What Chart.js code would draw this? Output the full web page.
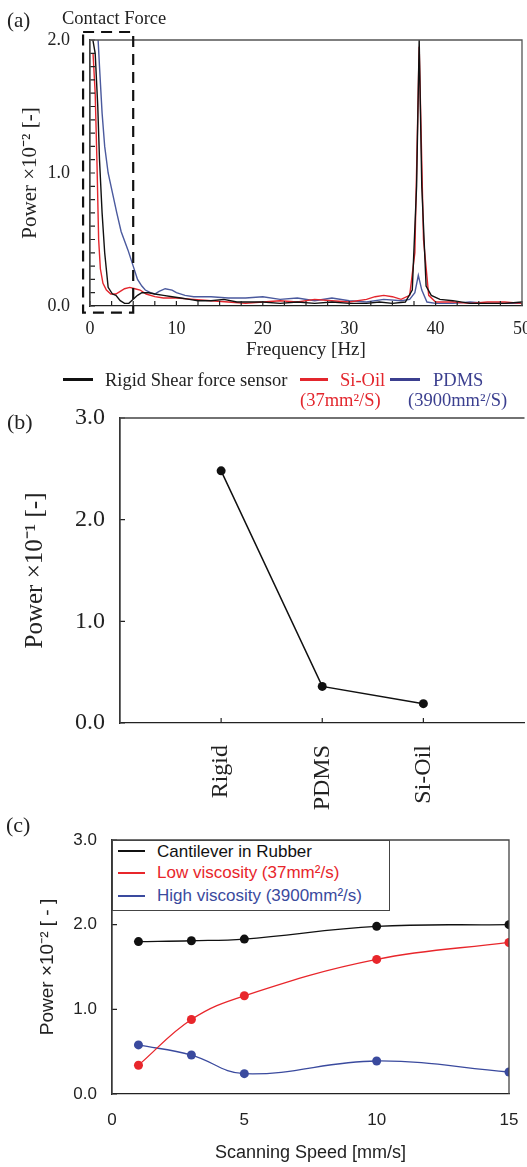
<!DOCTYPE html>
<html>
<head>
<meta charset="utf-8">
<script src="https://cdn.jsdelivr.net/npm/chart.js@4.4.1/dist/chart.umd.min.js"></script>
<style>
  html, body { margin: 0; padding: 0; background: #fff; overflow: hidden; }
  body { width: 527px; height: 1167px; position: relative; }
  .box { position: absolute; }
  .serif { font-family: "Liberation Serif", "Times New Roman", serif; }
  .sans { font-family: "Liberation Sans", Arial, sans-serif; }
  .lbl { position: absolute; white-space: nowrap; line-height: 1; color: #222; }
  .seg { position: absolute; height: 3px; }
</style>
</head>
<body>
<div class="box" style="left:0;top:0;width:527px;height:365px"><canvas id="chartA"></canvas></div>
<div class="box" style="left:0;top:400px;width:529px;height:415px"><canvas id="chartB"></canvas></div>
<div class="box" style="left:0;top:810px;width:527px;height:357px"><canvas id="chartC"></canvas></div>

<!-- panel letters -->
<div class="lbl serif" style="left:7px;top:10px;font-size:21px">(a)</div>
<div class="lbl serif" style="left:62px;top:9px;font-size:18.5px">Contact Force</div>
<div class="lbl serif" style="left:7px;top:411px;font-size:22px">(b)</div>
<div class="lbl serif" style="left:6px;top:814px;font-size:22px">(c)</div>

<!-- legend (a) -->
<div class="seg" style="left:63px;top:378px;width:30px;background:#111"></div>
<div class="lbl serif" style="left:105px;top:371px;font-size:18.5px">Rigid Shear force sensor</div>
<div class="seg" style="left:300px;top:378px;width:28px;background:#e3262d"></div>
<div class="lbl serif" style="left:340px;top:371px;font-size:18.5px;color:#e3262d">Si-Oil</div>
<div class="seg" style="left:390px;top:378px;width:30px;background:#3b3f8f"></div>
<div class="lbl serif" style="left:433px;top:371px;font-size:18.5px;color:#3b3f8f">PDMS</div>
<div class="lbl serif" style="left:300px;top:391px;font-size:18.5px;color:#e3262d">(37mm²/S)</div>
<div class="lbl serif" style="left:408px;top:391px;font-size:18.5px;color:#3b3f8f">(3900mm²/S)</div>

<!-- legend (c) -->
<div class="box" style="left:112px;top:840px;width:276px;height:69px;border:1.3px solid #444;background:#fff"></div>
<div class="seg" style="left:118px;top:850px;width:27px;height:2px;background:#111"></div>
<div class="lbl sans" style="left:157px;top:843px;font-size:17px;color:#111">Cantilever in Rubber</div>
<div class="seg" style="left:118px;top:872px;width:27px;height:2px;background:#e8262b"></div>
<div class="lbl sans" style="left:157px;top:864px;font-size:17px;color:#e8262b">Low viscosity (37mm²/s)</div>
<div class="seg" style="left:118px;top:895px;width:27px;height:2px;background:#3a4a9e"></div>
<div class="lbl sans" style="left:157px;top:887px;font-size:17px;color:#3a4a9e">High viscosity (3900mm²/s)</div>

<script>
// ---- data (a): power spectra ----
const rigidFreq = [0.2, 0.6, 0.9, 1.1, 1.4, 1.7, 2.1, 2.6, 3.0, 3.5, 4.0, 4.5, 5.0, 5.5, 6.0, 6.8, 7.5, 8.5, 9.5, 10.5,
  11.5, 12.5, 14, 15.5, 17, 18.5, 20, 22, 24, 26, 28, 30, 32, 33.5, 35, 36.5, 37.3, 37.8, 38.1, 38.4,
  38.9, 39.5, 40.5, 42, 44, 46, 48, 50];
const rigidPower = [2.05, 1.9, 1.5, 1.1, 0.7, 0.4, 0.14, 0.09, 0.08, 0.04, 0.02, 0.02, 0.05, 0.08, 0.10, 0.10, 0.09, 0.08, 0.07, 0.06,
  0.05, 0.04, 0.04, 0.05, 0.03, 0.03, 0.03, 0.02, 0.03, 0.02, 0.03, 0.02, 0.02, 0.03, 0.02, 0.03, 0.12, 0.9, 2.0, 0.9,
  0.15, 0.08, 0.05, 0.04, 0.02, 0.02, 0.02, 0.03];

const oilFreq = [0.35, 0.6, 0.8, 1.0, 1.2, 1.5, 1.9, 2.4, 3.0, 3.5, 4.0, 4.6, 5.2, 5.8, 6.5, 7.5, 8.5, 10, 12, 14,
  16, 18, 20, 22, 24, 26, 28, 30, 32, 33, 34, 35, 36, 37, 37.6, 38.1, 38.6, 39.2, 40, 42,
  44, 46, 48, 50];
const oilPower = [1.9, 1.6, 1.1, 0.5, 0.28, 0.17, 0.12, 0.09, 0.09, 0.11, 0.13, 0.14, 0.13, 0.12, 0.09, 0.07, 0.06, 0.06, 0.05, 0.04,
  0.03, 0.02, 0.03, 0.04, 0.03, 0.05, 0.04, 0.03, 0.05, 0.07, 0.08, 0.07, 0.05, 0.08, 0.4, 1.95, 0.5, 0.08, 0.03, 0.03,
  0.02, 0.03, 0.03, 0.02];

const pdmsFreq = [0.9, 1.1, 1.4, 1.7, 2.1, 2.6, 3.1, 3.6, 4.4, 5.0, 5.5, 6.0, 6.4, 7.0, 7.5, 8.0, 8.7, 9.5, 10, 11,
  12, 14, 16, 18, 20, 22, 24, 26, 28, 30, 32, 34, 36, 37, 37.6, 38.0, 38.4, 39, 40, 42,
  44, 46, 48, 50];
const pdmsPower = [2.05, 1.8, 1.45, 1.2, 1.0, 0.85, 0.70, 0.56, 0.42, 0.30, 0.20, 0.15, 0.12, 0.10, 0.09, 0.11, 0.13, 0.12, 0.10, 0.08,
  0.07, 0.07, 0.06, 0.06, 0.07, 0.05, 0.06, 0.04, 0.06, 0.04, 0.03, 0.05, 0.04, 0.05, 0.10, 0.23, 0.12, 0.03, 0.02, 0.02,
  0.03, 0.02, 0.02, 0.02];

// ---- data (b) ----
const materials = ['Rigid', 'PDMS', 'Si-Oil'];
const materialPower = [2.48, 0.36, 0.19];

// ---- data (c) ----
const speeds = [1, 3, 5, 10, 15];
const rubberPower = [1.80, 1.81, 1.83, 1.98, 2.00];
const lowViscPower = [0.34, 0.88, 1.16, 1.59, 1.79];
const highViscPower = [0.58, 0.46, 0.24, 0.39, 0.26];

const SERIF = '"Liberation Serif", "Times New Roman", serif';
const SANS = '"Liberation Sans", Arial, sans-serif';
const INK = '#222';

const pairs = (xs, ys) => xs.map((x, i) => ({x: x, y: ys[i]}));
const noPad = s => { s.paddingLeft = 0; s.paddingRight = 0; s.paddingTop = 0; s.paddingBottom = 0; };

// small inward tick marks on the axes
const inTicks = {
  id: 'inTicks',
  afterDatasetsDraw(chart, args, opts) {
    if (!opts.len) return;
    const {ctx, chartArea: a} = chart;
    ctx.save();
    ctx.strokeStyle = INK;
    ctx.lineWidth = 1.2;
    ctx.beginPath();
    (opts.axes || ['x', 'y']).forEach(id => {
      const s = chart.scales[id];
      s.ticks.forEach(t => {
        if (opts.skipEmpty && !t.label) return;
        const p = s.getPixelForValue(t.value);
        if (id === 'x') { ctx.moveTo(p, a.bottom); ctx.lineTo(p, a.bottom - opts.len); }
        else { ctx.moveTo(a.left, p); ctx.lineTo(a.left + opts.len, p); }
      });
    });
    ctx.stroke();
    ctx.restore();
  }
};

// box around the plot area (right side optional)
const frame = {
  id: 'frame',
  afterDraw(chart, args, opts) {
    const {ctx, chartArea: a} = chart;
    ctx.save();
    ctx.strokeStyle = opts.color || '#333';
    ctx.lineWidth = 1.3;
    ctx.beginPath();
    ctx.moveTo(a.left, a.bottom);
    ctx.lineTo(a.left, a.top);
    ctx.lineTo(a.right, a.top);
    if (!opts.noRight) ctx.lineTo(a.right, a.bottom);
    ctx.stroke();
    ctx.restore();
  }
};

// dashed "contact force" region in (a)
const contactBox = {
  id: 'contactBox',
  afterDraw(chart, args, opts) {
    if (!opts.show) return;
    const {ctx, scales: {x, y}} = chart;
    const l = x.getPixelForValue(opts.xMin), r = x.getPixelForValue(opts.xMax);
    const t = y.getPixelForValue(opts.yMax), b = y.getPixelForValue(opts.yMin);
    ctx.save();
    ctx.strokeStyle = '#111';
    ctx.lineWidth = 2.2;
    ctx.setLineDash([11, 7]);
    ctx.strokeRect(l, t, r - l, b - t);
    ctx.restore();
  }
};

Chart.register(inTicks, frame, contactBox);

// ---------- (a) ----------
new Chart(document.getElementById('chartA'), {
  type: 'line',
  data: {
    datasets: [
      {label: 'Rigid Shear force sensor', data: pairs(rigidFreq, rigidPower), borderColor: '#111'},
      {label: 'Si-Oil', data: pairs(oilFreq, oilPower), borderColor: '#e3262d'},
      {label: 'PDMS', data: pairs(pdmsFreq, pdmsPower), borderColor: '#4b5a9e'}
    ]
  },
  options: {
    responsive: true, maintainAspectRatio: false, animation: false,
    layout: {padding: {top: 40, right: 5, left: 0, bottom: 0}},
    elements: {point: {radius: 0}, line: {borderWidth: 1.4, tension: 0}},
    plugins: {
      legend: {display: false}, tooltip: {enabled: false},
      inTicks: {len: 5}, frame: {color: '#555'},
      contactBox: {show: true, xMin: -0.8, xMax: 5.0, yMin: -0.05, yMax: 2.06}
    },
    scales: {
      x: {
        type: 'linear', min: 0, max: 50,
        afterFit: s => { s.height = 59; noPad(s); },
        grid: {display: false, drawTicks: false},
        border: {color: INK, width: 1.3},
        ticks: {stepSize: 2.5, autoSkip: false, maxRotation: 0, padding: 12, color: INK,
          font: {family: SERIF, size: 18}, callback: v => (v % 10 === 0 ? String(v) : '')},
        title: {display: true, text: 'Frequency [Hz]', color: INK, font: {family: SERIF, size: 19}, padding: {top: 0, bottom: 4}}
      },
      y: {
        min: 0, max: 2,
        afterFit: s => { s.width = 90; noPad(s); },
        grid: {display: false, drawTicks: false},
        border: {color: INK, width: 1.3},
        ticks: {stepSize: 0.1, autoSkip: false, padding: 20, color: INK, font: {family: SERIF, size: 18},
          callback: v => (Math.abs(v - Math.round(v)) < 1e-6 ? Math.round(v).toFixed(1) : '')},
        title: {display: true, text: 'Power ×10⁻² [-]', color: INK, font: {family: SERIF, size: 21}, padding: {top: 18, bottom: 0}}
      }
    }
  }
});

// ---------- (b) ----------
new Chart(document.getElementById('chartB'), {
  type: 'line',
  data: {
    datasets: [{
      label: 'Power',
      data: materialPower.map((v, i) => ({x: i + 1, y: v})),
      borderColor: '#111', backgroundColor: '#111', borderWidth: 1.5,
      pointRadius: 4.5, pointBackgroundColor: '#111', pointBorderWidth: 0, tension: 0
    }]
  },
  options: {
    responsive: true, maintainAspectRatio: false, animation: false,
    layout: {padding: {top: 18, right: 0, left: 0, bottom: 0}},
    plugins: {legend: {display: false}, tooltip: {enabled: false}, inTicks: {len: 5, skipEmpty: true}, frame: {color: '#444', noRight: true}},
    scales: {
      x: {
        type: 'linear', min: 0, max: 4,
        afterFit: s => { s.height = 92; noPad(s); },
        grid: {display: false, drawTicks: false},
        border: {color: INK, width: 1.3},
        ticks: {stepSize: 1, autoSkip: false, minRotation: 90, maxRotation: 90, padding: 22, color: INK,
          font: {family: SERIF, size: 24}, callback: v => materials[v - 1] || ''}
      },
      y: {
        min: 0, max: 3,
        afterFit: s => { s.width = 120; noPad(s); },
        grid: {display: false, drawTicks: false},
        border: {color: INK, width: 1.3},
        ticks: {stepSize: 1, padding: 15, color: INK, font: {family: SERIF, size: 24}, callback: v => v.toFixed(1)},
        title: {display: true, text: 'Power ×10⁻¹ [-]', color: INK, font: {family: SERIF, size: 25}, padding: {top: 20, bottom: 0}}
      }
    }
  }
});

// ---------- (c) ----------
new Chart(document.getElementById('chartC'), {
  type: 'line',
  data: {
    datasets: [
      {label: 'Cantilever in Rubber', data: pairs(speeds, rubberPower), borderColor: '#111', pointBackgroundColor: '#111'},
      {label: 'Low viscosity (37mm²/s)', data: pairs(speeds, lowViscPower), borderColor: '#e8262b', pointBackgroundColor: '#e8262b'},
      {label: 'High viscosity (3900mm²/s)', data: pairs(speeds, highViscPower), borderColor: '#3a4a9e', pointBackgroundColor: '#3a4a9e'}
    ]
  },
  options: {
    responsive: true, maintainAspectRatio: false, animation: false,
    layout: {padding: {top: 30, right: 18, left: 0, bottom: 0}},
    elements: {point: {radius: 4.5, borderWidth: 0}, line: {borderWidth: 1.3, tension: 0.4}},
    plugins: {legend: {display: false}, tooltip: {enabled: false}, inTicks: {len: 5, axes: ['y']}, frame: {color: '#444'}},
    scales: {
      x: {
        type: 'linear', min: 0, max: 15,
        afterFit: s => { s.height = 73; noPad(s); },
        grid: {display: false, drawTicks: false},
        border: {color: INK, width: 1.3},
        ticks: {stepSize: 5, padding: 16, color: INK, font: {family: SANS, size: 17}},
        title: {display: true, text: 'Scanning Speed [mm/s]', color: INK, font: {family: SANS, size: 18}, padding: {top: 0, bottom: 3}}
      },
      y: {
        min: 0, max: 3,
        afterFit: s => { s.width = 112; noPad(s); },
        grid: {display: false, drawTicks: false},
        border: {color: INK, width: 1.3},
        ticks: {stepSize: 1, padding: 15, color: INK, font: {family: SANS, size: 17}, callback: v => v.toFixed(1)},
        title: {display: true, text: 'Power ×10⁻² [ - ]', color: INK, font: {family: SANS, size: 19}, padding: {top: 36, bottom: 0}}
      }
    }
  }
});
</script>
</body>
</html>
